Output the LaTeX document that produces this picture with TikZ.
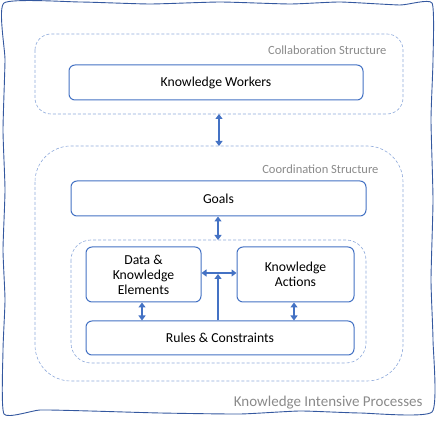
\documentclass[tikz,border=0pt]{standalone}
\usepackage{fontspec}
\setmainfont{Carlito}
\usetikzlibrary{arrows.meta}
\definecolor{boxblue}{HTML}{4472C4}
\definecolor{dashblue}{HTML}{8EA9DB}
\definecolor{frameblue}{HTML}{34589F}
\definecolor{labelgray}{HTML}{8A8A8A}
\tikzset{
  x=1pt, y=-1pt,
  kbox/.style={draw=boxblue, line width=1pt, rounded corners=6pt, fill=white},
  dbox/.style={draw=dashblue, line width=0.6pt, densely dashed},
  ktext/.style={font=\fontsize{13.7}{15}\selectfont, align=center, text=black},
  glabel/.style={font=\fontsize{12.5}{14}\selectfont, text=labelgray, anchor=east},
  biarrow/.style={draw=boxblue, line width=1.6pt, {Triangle[length=5pt,width=7pt]}-{Triangle[length=5pt,width=7pt]}},
  uparrow/.style={draw=boxblue, line width=1.6pt, -{Triangle[length=5pt,width=7pt]}},
}
\begin{document}
\begin{tikzpicture}
\useasboundingbox (0,0) rectangle (437,422);
% hand-drawn outer frame
\draw[frameblue, line width=0.9pt] plot[smooth cycle, tension=0.3] coordinates {
 (4,3) (80,2) (150,4) (220,2) (290,4) (340,2) (400,5) (432,3)
 (433,60) (431,120) (433,200) (431,280) (433,340) (432,412)
 (360,413) (300,411) (240,414) (160,413) (90,411) (40,410) (4,414)
 (3,350) (5,300) (3,250) (5,190) (3,130) (5,60)};
\node[font=\fontsize{15}{17}\selectfont, text=labelgray, anchor=east] (kip) at (426,403) {Knowledge Intensive Processes};

% collaboration structure
\draw[dbox, rounded corners=16pt] (35,34) rectangle (403,114);
\coordinate (collabB) at (219,114);
\node[glabel] (collab) at (390,50) {Collaboration Structure};
\node[kbox, minimum width=294pt, minimum height=35pt, ktext] (kw) at (216,82.5) {Knowledge Workers};

% coordination structure
\draw[dbox, rounded corners=36pt] (35,146) rectangle (403,381);
\coordinate (coordT) at (219,146);
\node[glabel] (coord) at (382,169) {Coordination Structure};
\node[kbox, minimum width=295pt, minimum height=35pt, ktext] (goals) at (218.5,198.5) {Goals};

% inner structure
\draw[dbox, rounded corners=20pt] (71,240) rectangle (366,363);
\coordinate (innerT) at (218,240);
\node[kbox, minimum width=115pt, minimum height=55pt, ktext, inner sep=1pt] (dke) at (143.5,274.5) {Data \&\\Knowledge\\Elements};
\node[kbox, minimum width=117pt, minimum height=55pt, ktext] (ka) at (295.5,274.5) {Knowledge\\Actions};
\node[kbox, minimum width=268pt, minimum height=34pt, ktext] (rc) at (220,338) {Rules \& Constraints};

% connectors
\draw[biarrow] (collabB) -- (coordT);
\draw[biarrow] (goals.south -| innerT) -- (innerT);
\draw[biarrow] (dke.east |- 0,273) coordinate (dkeE) -- (ka.west |- dkeE);
\draw[uparrow] (rc.north -| 218,0) -- (218,274);
\draw[biarrow] (dke.south -| 142,0) -- (rc.north -| 142,0);
\draw[biarrow] (ka.south -| 294,0) -- (rc.north -| 294,0);
\end{tikzpicture}
\end{document}
